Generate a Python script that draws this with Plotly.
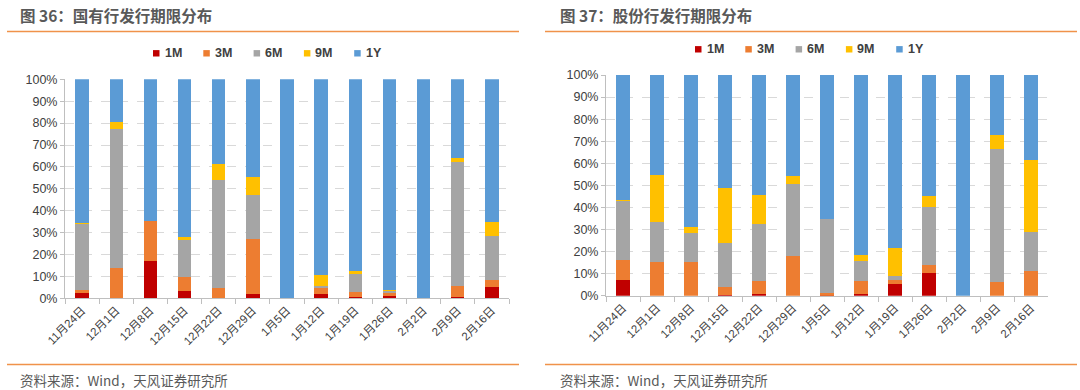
import plotly.graph_objects as go

dates = ["11月24日", "12月1日", "12月8日", "12月15日", "12月22日", "12月29日", "1月5日",
         "1月12日", "1月19日", "1月26日", "2月2日", "2月9日", "2月16日"]
series_names = ["1M", "3M", "6M", "9M", "1Y"]
colors = ["#C00000", "#ED7D31", "#A5A5A5", "#FFC000", "#5B9BD5"]

# 图36 国有行 (%)
soe_1m = [2.6, 0, 17.0, 3.3, 0, 2.0, 0, 2.0, 0.6, 1.1, 0, 0.6, 5.3]
soe_3m = [1.2, 13.9, 18.3, 6.4, 4.7, 24.9, 0, 3.0, 2.3, 1.2, 0, 5.0, 2.9]
soe_6m = [30.1, 63.4, 0, 16.9, 49.5, 20.4, 0, 0.8, 8.1, 1.0, 0, 56.5, 20.3]
soe_9m = [0.3, 3.2, 0, 1.3, 7.3, 8.3, 0, 4.9, 1.6, 0.5, 0, 2.1, 6.5]
soe_1y = [65.8, 19.5, 64.7, 72.1, 38.5, 44.4, 100, 89.3, 87.4, 96.2, 100, 35.8, 65.0]

# 图37 股份行 (%)
jsb_1m = [7.3, 0, 0, 0.5, 0.8, 0, 0.3, 0.8, 5.1, 10.4, 0, 0, 0]
jsb_3m = [9.0, 15.4, 15.4, 3.3, 5.8, 18.1, 0.9, 5.8, 2.0, 3.5, 0, 6.3, 11.2]
jsb_6m = [26.8, 18.1, 12.8, 20.1, 25.9, 32.5, 33.5, 9.1, 2.0, 26.4, 0, 60.0, 17.7]
jsb_9m = [0.4, 21.2, 2.8, 25.0, 13.1, 3.6, 0, 2.9, 12.5, 4.9, 0, 6.5, 32.6]
jsb_1y = [56.5, 45.3, 69.0, 51.1, 54.4, 45.8, 65.3, 81.4, 78.4, 54.8, 100, 27.2, 38.5]

soe = [soe_1m, soe_3m, soe_6m, soe_9m, soe_1y]
jsb = [jsb_1m, jsb_3m, jsb_6m, jsb_9m, jsb_1y]

FONT = "Liberation Sans, Arial, Noto Sans CJK SC, sans-serif"
CJK = "Noto Sans CJK SC, Liberation Sans, sans-serif"
W, H = 1080, 390

fig = go.Figure()
for name, col, vals in zip(series_names, colors, soe):
    fig.add_trace(go.Bar(x=dates, y=vals, name=name, marker_color=col, showlegend=False,
                         marker_line_width=0, xaxis="x", yaxis="y"))
for name, col, vals in zip(series_names, colors, jsb):
    fig.add_trace(go.Bar(x=dates, y=vals, name=name, marker_color=col, showlegend=False,
                         marker_line_width=0, xaxis="x2", yaxis="y2"))

def px_x(p):
    return p / W

def px_y(p):
    return 1 - p / H

xaxis_common = dict(type="category", tickangle=-45, tickson="boundaries", ticks="outside",
                    ticklen=5, tickcolor="#BFBFBF", showline=True, linecolor="#BFBFBF",
                    linewidth=1, showgrid=False, automargin=False,
                    tickfont=dict(size=11.5, color="#404040", family=FONT))
yaxis_common = dict(range=[0, 100], dtick=10, ticksuffix="%", ticks="outside", ticklen=4,
                    tickcolor="#BFBFBF", showline=True, linecolor="#BFBFBF", linewidth=1,
                    showgrid=True, gridcolor="#D9D9D9", griddash="dash", gridwidth=1,
                    zeroline=False, automargin=False,
                    tickfont=dict(size=12.5, color="#404040", family=FONT))

fig.update_layout(
    width=W, height=H, margin=dict(l=0, r=0, t=0, b=0, autoexpand=False),
    paper_bgcolor="white", plot_bgcolor="white",
    barmode="stack", bargap=0.61, showlegend=False,
    font=dict(family=FONT),
    xaxis=dict(domain=[px_x(65), px_x(509)], anchor="y", **xaxis_common),
    yaxis=dict(domain=[px_y(298.3), px_y(79.3)], anchor="x", **yaxis_common),
    xaxis2=dict(domain=[px_x(606), px_x(1048)], anchor="y2", **xaxis_common),
    yaxis2=dict(domain=[px_y(295.7), px_y(75)], anchor="x2", **yaxis_common),
)

# legends (squares + bold labels), one per panel
for x_start, y_c in ((153, 53.3), (695, 49.3)):
    for i, (name, col) in enumerate(zip(series_names, colors)):
        x0 = x_start + i * 50.3
        fig.add_shape(type="rect", xref="paper", yref="paper",
                      x0=px_x(x0), x1=px_x(x0 + 6.5), y0=px_y(y_c + 3.2), y1=px_y(y_c - 3.2),
                      fillcolor=col, line=dict(width=0))
        fig.add_annotation(text="<b>" + name + "</b>", xref="paper", yref="paper",
                           x=px_x(x0 + 9.5), y=px_y(y_c), xanchor="left", yanchor="middle",
                           showarrow=False,
                           font=dict(size=12.5, color="#404040", family=FONT))

# titles
fig.add_annotation(text="<b>图 36：国有行发行期限分布</b>", xref="paper", yref="paper",
                   x=px_x(18), y=px_y(15), xanchor="left", yanchor="middle", showarrow=False,
                   font=dict(size=15.5, color="#595959", family=CJK))
fig.add_annotation(text="<b>图 37：股份行发行期限分布</b>", xref="paper", yref="paper",
                   x=px_x(558), y=px_y(15), xanchor="left", yanchor="middle", showarrow=False,
                   font=dict(size=15.5, color="#595959", family=CJK))
# sources
for xs in (18, 558):
    fig.add_annotation(text="资料来源：Wind，天风证券研究所", xref="paper", yref="paper",
                       x=px_x(xs), y=px_y(379.5), xanchor="left", yanchor="middle", showarrow=False,
                       font=dict(size=13.5, color="#595959", family=CJK))

# orange separator lines
for (x0, x1) in ((7, 519), (545, 1077)):
    for yy in (31.5, 364.5):
        fig.add_shape(type="line", xref="paper", yref="paper",
                      x0=px_x(x0), x1=px_x(x1), y0=px_y(yy), y1=px_y(yy),
                      line=dict(color="#F0924A", width=1.5))

fig.write_html("out.html", config={"displayModeBar": False},
               post_script="document.body.style.margin='0';document.body.style.overflow='hidden';")
